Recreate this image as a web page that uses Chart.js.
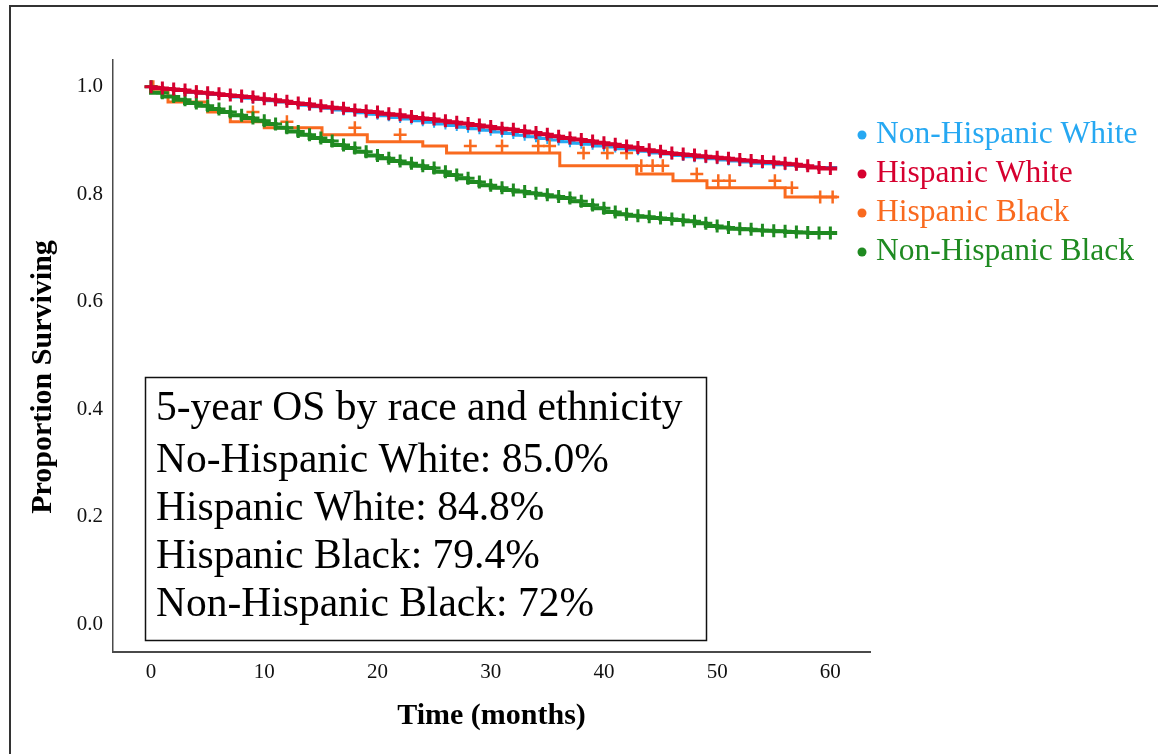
<!DOCTYPE html>
<html>
<head>
<meta charset="utf-8">
<script src="https://cdn.jsdelivr.net/npm/chart.js@4.4.1/dist/chart.umd.min.js"></script>
<style>
  html, body { margin: 0; padding: 0; background: #fff; }
  #wrap { width: 1158px; height: 754px; }
</style>
</head>
<body>
<div id="wrap"><canvas id="kmCanvas" width="1158" height="754"></canvas></div>
<script>
const groups = ["Non-Hispanic White", "Hispanic White", "Hispanic Black", "Non-Hispanic Black"];
const groupColors = ["#26a8f2", "#d6002f", "#f96a1f", "#1f8a21"];
const xTicks = [0, 10, 20, 30, 40, 50, 60];
const yTicks = [0.0, 0.2, 0.4, 0.6, 0.8, 1.0];

// monthly step points (months 0..60) for the dense curves
const months = [0, 1, 2, 3, 4, 5, 6, 7, 8, 9, 10, 11, 12, 13, 14, 15, 16, 17, 18, 19, 20,
  21, 22, 23, 24, 25, 26, 27, 28, 29, 30, 31, 32, 33, 34, 35, 36, 37, 38, 39, 40,
  41, 42, 43, 44, 45, 46, 47, 48, 49, 50, 51, 52, 53, 54, 55, 56, 57, 58, 59, 60];
const lastTime = 60.6;

const nhWhite = [1.000, 0.997, 0.995, 0.993, 0.990, 0.988, 0.986, 0.984, 0.981, 0.979, 0.977,
  0.974, 0.972, 0.969, 0.966, 0.963, 0.960, 0.957, 0.955, 0.952, 0.949,
  0.946, 0.943, 0.940, 0.937, 0.934, 0.931, 0.928, 0.925, 0.922, 0.919,
  0.916, 0.913, 0.910, 0.907, 0.904, 0.901, 0.898, 0.895, 0.893, 0.890,
  0.888, 0.885, 0.883, 0.880, 0.877, 0.875, 0.872, 0.870, 0.868, 0.866,
  0.864, 0.862, 0.860, 0.858, 0.857, 0.855, 0.854, 0.852, 0.851, 0.850];

const hWhite = [1.000, 0.998, 0.996, 0.994, 0.991, 0.989, 0.987, 0.985, 0.983, 0.981, 0.978,
  0.976, 0.973, 0.970, 0.968, 0.965, 0.962, 0.960, 0.957, 0.955, 0.953,
  0.950, 0.948, 0.945, 0.942, 0.940, 0.937, 0.934, 0.932, 0.929, 0.926,
  0.923, 0.921, 0.918, 0.915, 0.912, 0.908, 0.905, 0.902, 0.899, 0.896,
  0.893, 0.890, 0.887, 0.883, 0.880, 0.877, 0.875, 0.873, 0.871, 0.869,
  0.867, 0.865, 0.863, 0.861, 0.860, 0.858, 0.856, 0.853, 0.850, 0.848];

const nhBlack = [1.000, 0.989, 0.982, 0.976, 0.970, 0.965, 0.959, 0.953, 0.947, 0.942, 0.937,
  0.931, 0.924, 0.917, 0.911, 0.905, 0.899, 0.892, 0.886, 0.879, 0.872,
  0.867, 0.862, 0.858, 0.853, 0.849, 0.842, 0.836, 0.830, 0.823, 0.817,
  0.812, 0.808, 0.805, 0.802, 0.799, 0.796, 0.793, 0.787, 0.780, 0.774,
  0.767, 0.763, 0.760, 0.758, 0.756, 0.754, 0.752, 0.750, 0.746, 0.741,
  0.738, 0.736, 0.735, 0.733, 0.732, 0.731, 0.730, 0.729, 0.728, 0.728];

// Hispanic Black: fewer events, explicit step times
const hBlackTimes = [0, 1.5, 5, 7, 10, 15.1, 19.1, 24, 26.1, 36.1, 42.9, 46.1, 49.1, 56, 57.2, 60.6];
const hBlackSurv = [1.000, 0.991, 0.972, 0.953, 0.935, 0.924, 0.911, 0.898, 0.890, 0.877, 0.853, 0.838, 0.825, 0.812, 0.795, 0.795];
const hBlackCensor = [0.2, 4, 9, 12, 18, 22, 28.2, 31, 34.2, 35.2, 38.2, 40.3, 42, 43.3, 44.3, 45.2, 48.2, 50.1, 51.1, 55.1, 56.6, 59.1, 60.2];

const summaryLines = [
  "5-year OS by race and ethnicity",
  "No-Hispanic White: 85.0%",
  "Hispanic White: 84.8%",
  "Hispanic Black: 79.4%",
  "Non-Hispanic Black: 72%"
];

const monthly = (vals) => months.map((t, i) => ({ x: t, y: vals[i] }))
  .concat([{ x: lastTime, y: vals[vals.length - 1] }]);

const stepAt = (t) => {
  let v = hBlackSurv[0];
  for (let i = 0; i < hBlackTimes.length; i++) if (hBlackTimes[i] <= t) v = hBlackSurv[i];
  return v;
};

const noEndMark = (r) => (ctx) => ctx.dataIndex === months.length ? 0 : r;

const serif = "'Liberation Serif', 'Times New Roman', serif";

const framePlugin = {
  id: "frameAndNotes",
  beforeDraw(chart) {
    const c = chart.ctx;
    c.save();
    c.fillStyle = "#fff";
    c.fillRect(0, 0, chart.width, chart.height);
    c.strokeStyle = "#333";
    c.lineWidth = 2;
    c.beginPath();
    c.moveTo(10, chart.height + 2);
    c.lineTo(10, 6);
    c.lineTo(chart.width + 2, 6);
    c.stroke();
    c.restore();
  },
  afterDraw(chart) {
    const c = chart.ctx;
    c.save();
    // y axis title
    c.translate(43, 377);
    c.rotate(-Math.PI / 2);
    c.font = "bold 30px " + serif;
    c.fillStyle = "#000";
    c.textAlign = "center";
    c.textBaseline = "middle";
    c.fillText("Proportion Surviving", 0, 0);
    c.restore();

    // legend
    c.save();
    c.font = "31.5px " + serif;
    c.textBaseline = "middle";
    c.textAlign = "left";
    groups.forEach((g, i) => {
      const y = 135 + i * 39;
      c.fillStyle = groupColors[i];
      c.beginPath();
      c.arc(862, y, 4.5, 0, Math.PI * 2);
      c.fill();
      c.fillText(g, 876, y);
    });
    c.restore();

    // summary box
    c.save();
    c.fillStyle = "#fff";
    c.fillRect(145, 377, 561, 263);
    c.strokeStyle = "#111";
    c.lineWidth = 1.5;
    c.strokeRect(145.5, 377.5, 561, 263);
    c.fillStyle = "#000";
    c.font = "41.5px " + serif;
    c.textBaseline = "middle";
    c.textAlign = "left";
    const ys = [409, 461, 509, 557, 605];
    summaryLines.forEach((s, i) => c.fillText(s, 156, ys[i]));
    c.restore();
  }
};

new Chart(document.getElementById("kmCanvas"), {
  type: "line",
  data: {
    datasets: [
      {
        label: groups[1],
        data: monthly(hWhite),
        stepped: "after",
        borderColor: groupColors[1],
        borderWidth: 4,
        pointStyle: "cross",
        pointRadius: noEndMark(6.5),
        pointBorderWidth: 3,
        pointBorderColor: groupColors[1],
        order: 0
      },
      {
        label: groups[3],
        data: monthly(nhBlack),
        stepped: "after",
        borderColor: groupColors[3],
        borderWidth: 4,
        pointStyle: "cross",
        pointRadius: noEndMark(6.5),
        pointBorderWidth: 3,
        pointBorderColor: groupColors[3],
        order: 1
      },
      {
        label: groups[2],
        data: hBlackTimes.map((t, i) => ({ x: t, y: hBlackSurv[i] })),
        stepped: "after",
        borderColor: groupColors[2],
        borderWidth: 3,
        pointRadius: 0,
        order: 2
      },
      {
        label: groups[2] + " censored",
        data: hBlackCensor.map((t) => ({ x: t, y: stepAt(t) })),
        showLine: false,
        pointStyle: "cross",
        pointRadius: 6.5,
        pointBorderWidth: 2.5,
        pointBorderColor: groupColors[2],
        order: 2
      },
      {
        label: groups[0],
        data: monthly(nhWhite),
        stepped: "after",
        borderColor: groupColors[0],
        borderWidth: 3,
        pointStyle: "cross",
        pointRadius: noEndMark(5.5),
        pointBorderWidth: 2,
        pointBorderColor: groupColors[0],
        order: 3
      }
    ]
  },
  options: {
    responsive: false,
    animation: false,
    layout: { padding: { left: 0, right: 288, top: 60, bottom: 0 } },
    plugins: { legend: { display: false }, tooltip: { enabled: false } },
    scales: {
      x: {
        type: "linear",
        min: -3.36,
        max: 63.5,
        afterBuildTicks: (s) => { s.ticks = xTicks.map((v) => ({ value: v })); },
        afterFit: (s) => { s.height = 102; },
        grid: { display: false, drawTicks: false },
        border: { display: true, color: "#4a4a4a", width: 2 },
        ticks: { padding: 8, color: "#111", font: { family: serif, size: 21 }, maxRotation: 0 },
        title: {
          display: true,
          text: "Time (months)",
          color: "#000",
          font: { family: serif, size: 30, weight: "bold" },
          padding: { top: 0, bottom: 20 }
        }
      },
      y: {
        type: "linear",
        min: -0.052,
        max: 1.05,
        afterBuildTicks: (s) => { s.ticks = yTicks.map((v) => ({ value: v })); },
        afterFit: (s) => { s.width = 113; },
        grid: { display: false, drawTicks: false },
        border: { display: true, color: "#4a4a4a", width: 1.5 },
        ticks: {
          padding: 10,
          color: "#111",
          font: { family: serif, size: 21 },
          callback: (v) => Number(v).toFixed(1)
        }
      }
    }
  },
  plugins: [framePlugin]
});
</script>
</body>
</html>
